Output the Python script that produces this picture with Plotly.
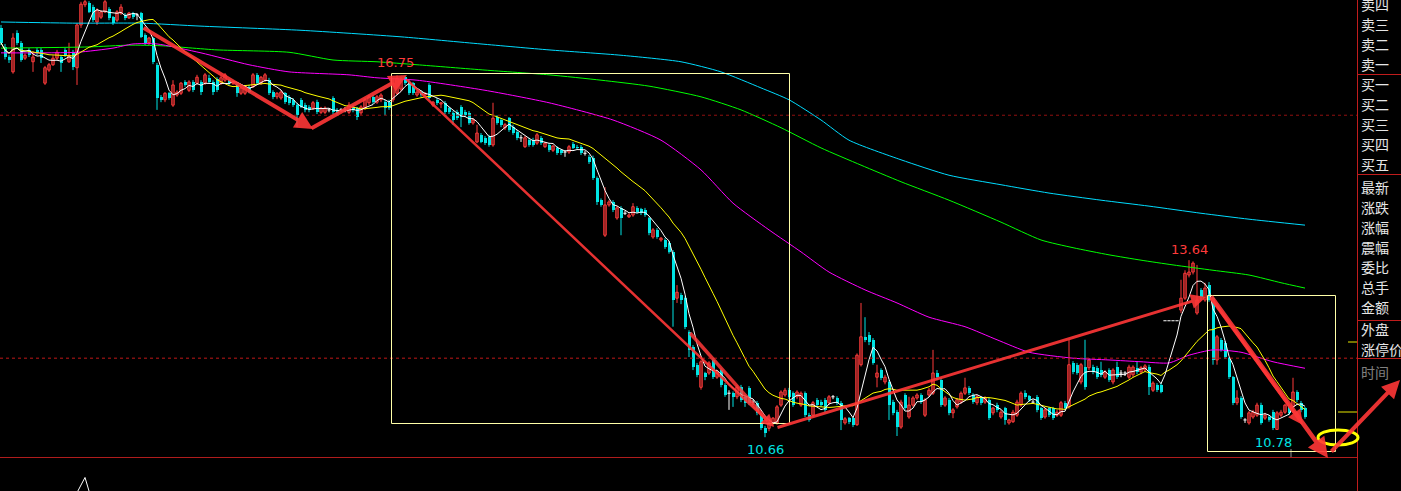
import plotly.graph_objects as go
import pandas as pd

# ---------------- candle data (bar index 0..326) ----------------
opens = [
17.55,17.23,17.06,16.81,17.46,17.30,17.04,17.18,16.98,17.18,
17.18,16.62,16.84,16.93,17.04,17.06,17.18,16.98,17.14,16.88,
17.60,17.94,17.97,17.90,17.65,17.73,17.82,17.87,17.73,17.68,
17.80,17.77,17.72,17.80,17.77,17.80,17.43,17.30,17.38,16.93,
16.39,16.34,16.45,16.25,16.42,16.45,16.64,16.50,16.64,16.62,
16.64,16.62,16.71,16.64,16.69,16.62,16.67,16.67,16.62,16.59,
16.45,16.45,16.56,16.56,16.76,16.62,16.67,16.67,16.47,16.39,
16.37,16.45,16.39,16.34,16.25,16.34,16.25,16.22,16.20,16.30,
16.13,16.13,16.17,16.37,16.17,16.17,16.17,16.13,16.22,16.20,
16.12,16.20,16.29,16.39,16.30,16.34,16.30,16.30,16.34,16.45,
16.52,16.72,16.64,16.62,16.42,16.47,16.42,16.59,16.25,16.34,
16.27,16.29,16.20,16.12,16.13,16.22,16.13,16.12,15.95,15.63,
15.75,15.70,15.71,15.58,16.05,16.00,15.87,16.03,15.88,15.80,
15.70,15.55,15.66,15.66,15.61,15.70,15.55,15.58,15.49,15.53,
15.49,15.46,15.46,15.60,15.55,15.55,15.44,15.38,15.36,15.02,
14.65,14.06,14.57,14.62,14.35,14.52,14.43,14.37,14.40,14.52,
14.50,14.49,14.35,14.03,14.15,13.98,13.98,13.93,13.78,13.00,
13.05,13.00,12.43,12.18,11.88,11.50,11.74,11.74,11.96,11.67,
11.79,11.54,11.40,11.40,11.34,11.50,11.34,11.49,11.25,11.24,
11.03,10.81,10.81,10.90,10.90,11.20,11.37,11.45,11.40,11.34,
11.20,11.40,11.03,11.03,11.29,11.25,11.29,11.24,11.34,11.32,
11.24,10.90,10.98,10.98,10.87,11.88,12.35,12.38,12.30,11.67,
11.79,11.59,11.59,11.25,11.08,10.83,11.37,11.00,11.20,11.32,
11.37,11.03,11.37,11.40,11.74,11.62,11.20,11.29,11.07,11.17,
11.25,11.40,11.49,11.37,11.24,11.32,11.25,11.29,11.07,11.20,
11.00,11.15,10.90,10.92,11.03,11.20,11.40,11.35,11.25,11.34,
11.15,11.00,11.15,11.15,11.03,11.03,11.24,11.17,11.91,11.88,
11.59,11.84,11.83,11.84,11.83,11.79,11.67,11.79,11.59,11.84,
11.74,11.74,11.67,11.71,11.83,11.76,11.79,11.84,11.45,11.54,
11.54,12.62,12.62,12.62,12.62,12.80,13.00,13.39,13.44,12.75,
13.14,12.97,13.22,13.00,11.96,12.30,12.25,11.99,11.67,11.24,
11.32,10.95,10.90,11.00,11.03,11.20,10.98,11.00,11.08,10.79,
11.03,11.08,11.17,11.17,11.42,11.24,11.15]

closes = [
17.30,17.06,17.01,17.38,17.30,17.01,17.09,17.09,17.06,17.13,
17.04,16.88,16.93,17.04,17.14,16.96,17.09,17.09,16.89,17.60,
17.95,17.99,17.82,17.68,17.85,17.82,17.99,17.72,17.63,17.82,
17.90,17.72,17.80,17.73,17.77,17.40,17.30,17.38,16.98,16.37,
16.34,16.45,16.37,16.59,16.47,16.62,16.59,16.64,16.50,16.72,
16.47,16.76,16.64,16.47,16.50,16.71,16.76,16.62,16.64,16.45,
16.54,16.56,16.47,16.76,16.62,16.72,16.76,16.45,16.39,16.45,
16.47,16.30,16.29,16.25,16.08,16.22,16.17,16.17,16.29,16.13,
16.20,16.20,16.17,16.13,16.12,16.17,16.17,16.25,16.17,16.05,
16.22,16.34,16.39,16.30,16.39,16.42,16.20,16.20,16.62,16.70,
16.68,16.62,16.45,16.45,16.47,16.42,16.45,16.37,16.30,16.29,
16.29,16.13,16.13,16.00,16.03,16.05,16.08,15.95,16.00,15.78,
15.63,15.61,15.58,16.03,15.95,15.92,15.92,15.83,15.78,15.70,
15.70,15.70,15.58,15.58,15.75,15.61,15.61,15.49,15.56,15.44,
15.44,15.46,15.55,15.53,15.53,15.44,15.44,15.29,15.02,14.62,
14.57,14.57,14.62,14.49,14.52,14.35,14.43,14.40,14.54,14.45,
14.43,14.40,14.10,14.15,14.03,14.01,13.86,13.78,12.97,13.10,
12.97,12.52,12.13,11.84,11.71,11.93,11.67,11.91,11.67,11.76,
11.54,11.37,11.40,11.34,11.50,11.29,11.24,11.24,11.25,11.07,
10.81,10.73,10.90,10.98,11.17,11.42,11.45,11.34,11.20,11.42,
11.40,11.03,10.95,11.24,11.20,11.20,11.12,11.34,11.34,11.24,
10.95,10.97,10.92,10.87,12.04,12.35,12.30,12.26,11.91,11.74,
11.66,11.67,11.20,11.07,10.83,11.25,11.15,11.20,11.32,11.37,
11.25,11.29,11.45,11.74,11.67,11.20,11.32,11.07,11.12,11.29,
11.40,11.49,11.40,11.25,11.34,11.24,11.32,10.98,11.15,11.12,
11.08,10.95,10.95,11.08,11.25,11.40,11.34,11.29,11.25,11.12,
10.98,11.12,11.03,10.98,11.08,11.24,11.15,11.88,11.76,11.74,
11.88,11.50,11.96,11.76,11.67,11.71,11.76,11.62,11.79,11.67,
11.74,11.74,11.84,11.84,11.76,11.83,11.86,11.50,11.57,11.45,
11.42,12.62,12.62,12.62,12.62,13.00,13.42,13.44,13.59,12.97,
13.02,13.17,12.97,11.96,12.35,12.13,12.01,11.67,11.24,11.32,
11.00,10.95,11.07,11.08,11.20,10.90,11.03,10.95,10.81,11.07,
11.08,11.20,11.07,11.42,11.29,11.12,11.00]

highs = [
17.60,17.28,17.09,17.46,17.51,17.33,17.12,17.21,17.16,17.21,
17.21,16.91,16.96,17.09,17.18,17.09,17.21,17.30,17.18,17.63,
17.99,18.02,18.00,17.94,17.88,17.85,18.02,17.90,17.75,17.85,
17.95,17.80,17.82,17.82,17.80,17.82,17.46,17.40,17.40,16.96,
16.42,16.47,16.47,16.67,16.50,16.64,16.67,16.67,16.67,16.76,
16.67,16.79,16.76,16.67,16.72,16.74,16.79,16.69,16.67,16.62,
16.56,16.59,16.59,16.79,16.79,16.74,16.79,16.71,16.50,16.47,
16.50,16.47,16.42,16.37,16.29,16.37,16.29,16.25,16.32,16.34,
16.22,16.23,16.20,16.40,16.20,16.20,16.22,16.30,16.25,16.22,
16.25,16.37,16.42,16.42,16.42,16.45,16.34,16.34,16.70,16.75,
16.72,16.74,16.67,16.64,16.50,16.50,16.47,16.62,16.32,16.37,
16.30,16.32,16.22,16.15,16.17,16.25,16.17,16.15,16.03,15.92,
15.78,15.73,15.75,16.29,16.08,16.03,15.95,16.05,15.92,15.83,
15.75,15.73,15.70,15.70,15.78,15.73,15.63,15.61,15.58,15.56,
15.51,15.49,15.58,15.63,15.58,15.58,15.48,15.41,15.40,15.05,
14.68,14.87,14.65,14.65,14.55,14.55,14.47,14.43,14.60,14.55,
14.52,14.52,14.37,14.18,14.18,14.03,14.01,13.96,13.81,13.22,
13.09,13.03,12.46,12.21,11.91,11.96,11.76,11.94,11.99,11.79,
11.82,11.57,11.45,11.43,11.54,11.54,11.37,11.52,11.29,11.27,
11.07,10.85,10.93,11.00,11.20,11.45,11.49,11.49,11.43,11.45,
11.43,11.43,11.07,11.27,11.32,11.29,11.32,11.37,11.37,11.35,
11.27,11.00,11.00,11.00,12.07,12.92,12.68,12.43,12.33,11.88,
11.82,11.71,11.62,11.29,11.12,11.29,11.40,11.34,11.35,11.40,
11.40,11.32,11.49,12.13,11.79,11.66,11.35,11.32,11.15,11.32,
11.43,11.66,11.52,11.40,11.37,11.35,11.35,11.32,11.17,11.24,
11.12,11.17,10.97,11.12,11.29,11.43,11.45,11.37,11.29,11.37,
11.17,11.15,11.17,11.17,11.12,11.27,11.27,12.30,11.94,11.91,
11.91,12.30,11.99,11.88,11.86,11.93,11.79,11.82,11.82,11.93,
11.79,11.77,11.88,11.87,11.93,11.86,11.89,11.88,11.60,11.57,
11.57,12.62,12.62,12.62,12.62,13.31,13.47,13.64,13.62,13.56,
13.17,13.26,13.27,13.02,12.38,12.33,12.28,12.01,11.69,11.45,
11.35,10.98,11.10,11.12,11.24,11.24,11.07,11.03,11.12,11.10,
11.12,11.22,11.20,11.66,11.45,11.27,11.17]

lows = [
17.26,17.02,16.96,16.78,17.26,16.98,17.01,17.06,16.81,17.09,
16.96,16.59,16.81,16.91,17.01,16.81,17.06,16.96,16.84,16.59,
17.55,17.90,17.80,17.65,17.60,17.70,17.80,17.68,17.60,17.65,
17.77,17.68,17.70,17.70,17.68,17.38,17.26,17.26,16.94,16.17,
16.30,16.30,16.34,16.22,16.39,16.42,16.56,16.47,16.47,16.59,
16.42,16.59,16.62,16.42,16.47,16.59,16.64,16.59,16.59,16.39,
16.42,16.42,16.45,16.54,16.59,16.59,16.64,16.42,16.35,16.35,
16.34,16.27,16.25,16.22,15.88,16.20,16.13,16.13,16.17,16.10,
16.10,16.10,16.13,16.10,16.08,16.13,16.13,16.10,16.13,16.00,
16.08,16.17,16.25,16.27,16.27,16.30,16.08,16.17,16.30,16.42,
16.48,16.59,16.42,16.42,16.39,16.39,16.39,16.34,16.22,16.25,
16.20,16.10,16.10,15.92,16.00,15.88,16.05,15.92,15.92,15.61,
15.61,15.58,15.55,15.55,15.92,15.88,15.83,15.80,15.75,15.66,
15.63,15.53,15.55,15.55,15.58,15.58,15.53,15.46,15.46,15.41,
15.41,15.38,15.43,15.51,15.51,15.41,15.40,15.26,14.99,14.57,
14.54,14.03,14.54,14.45,14.32,14.06,14.40,14.35,14.37,14.43,
14.40,14.37,14.06,14.00,14.00,13.95,13.83,13.75,12.52,12.92,
12.90,12.48,12.01,11.79,11.67,11.46,11.62,11.71,11.64,11.64,
11.50,11.34,11.12,11.17,11.30,11.25,11.17,11.20,11.20,11.03,
10.78,10.66,10.76,10.85,10.87,11.17,11.34,11.30,11.17,11.30,
11.17,11.00,10.92,11.00,11.17,11.17,11.08,11.20,11.30,11.20,
10.78,10.87,10.88,10.83,10.85,11.85,12.26,12.21,11.88,11.50,
11.62,11.55,10.95,11.03,10.68,10.80,11.12,10.97,11.17,11.29,
11.22,11.00,11.34,11.37,11.62,11.17,11.17,11.03,10.98,11.14,
11.22,11.37,11.37,11.22,11.20,11.20,11.22,10.95,11.03,11.08,
10.97,10.87,10.87,10.90,11.00,11.17,11.30,11.25,11.22,11.08,
10.95,10.97,11.00,10.95,11.00,11.00,11.12,11.14,11.72,11.71,
11.55,11.46,11.79,11.72,11.64,11.67,11.64,11.59,11.55,11.64,
11.67,11.69,11.64,11.67,11.72,11.72,11.76,11.37,11.42,11.42,
11.40,12.62,12.62,12.62,12.62,12.75,12.97,13.35,13.40,12.72,
12.97,12.94,12.94,11.88,11.88,12.10,11.98,11.64,11.20,11.20,
10.97,10.90,10.87,10.97,11.00,10.87,10.95,10.92,10.78,10.79,
11.00,11.05,11.03,11.14,11.25,11.08,10.97]

# long moving averages (bar index, price)
mag_idx = [0,19,28,33,39,50,62,72,87,94,104,121,137,153,165,175,183,192,200,207,
           216,224,232,241,249,257,268,277,285,292,297,303,310,318,326]
mag_val = [17.13,17.14,17.21,17.28,17.28,17.13,16.93,16.81,16.76,16.71,16.67,16.50,16.29,16.00,
           15.66,15.16,14.60,14.15,13.78,13.44,13.14,12.92,12.68,12.52,12.30,12.09,11.99,11.96,
           11.93,11.91,12.04,12.13,12.09,11.93,11.82]
grn_idx = [0,22,32,40,54,72,83,94,104,121,137,150,162,175,185,195,205,215,225,237,
           250,260,268,277,285,293,303,312,320,326]
grn_val = [17.21,17.23,17.26,17.25,17.18,17.14,17.01,16.98,16.93,16.84,16.76,16.67,16.57,16.39,
           16.17,15.87,15.53,15.24,14.96,14.65,14.28,13.98,13.85,13.73,13.64,13.56,13.47,13.39,
           13.26,13.17]
cyn_idx = [0,19,35,50,75,100,120,137,155,170,180,190,197,205,212,225,237,250,262,275,287,300,312,326]
cyn_val = [17.65,17.63,17.63,17.58,17.51,17.40,17.28,17.18,17.09,16.98,16.81,16.54,16.34,16.00,
           15.66,15.33,15.07,14.91,14.77,14.65,14.55,14.43,14.33,14.23]

# sub-panel indicator fragment
sub_idx = [19, 21, 22]
sub_val = [-0.05, 0.41, 0.0]

# marked extremes
label_hi1 = (99, 16.75)
label_lo1 = (191, 10.66)
label_hi2 = (297, 13.64)
label_lo2 = (318, 10.78)

panel_labels = ["卖四","卖三","卖二","卖一","买一","买二","买三","买四","买五",
                "最新","涨跌","涨幅","震幅","委比","总手","金额","外盘","涨停价","时间"]

assert len(opens) == len(closes) == len(highs) == len(lows), (len(opens), len(closes), len(highs), len(lows))

# ---------------- figure ----------------
W, H = 1401, 491
RED = "#ff3b3b"
CY = "#00e4e4"
n = len(opens)
idx = list(range(n))
cl = pd.Series(closes)
ma5 = cl.rolling(5, min_periods=1).mean()
ma20 = cl.rolling(20, min_periods=1).mean()

up = [i for i in idx if closes[i] > opens[i]]
dn = [i for i in idx if closes[i] < opens[i]]
dj = [i for i in idx if closes[i] == opens[i]]


def wicks(ids):
    xs, ys = [], []
    for i in ids:
        xs += [i, i, None]
        ys += [lows[i], highs[i], None]
    return xs, ys


fig = go.Figure()

for ids, col in ((up, RED), (dn, CY), (dj, "#ffffff")):
    wx, wy = wicks(ids)
    fig.add_trace(go.Scatter(x=wx, y=wy, mode="lines", line=dict(color=col, width=1),
                             hoverinfo="skip", showlegend=False))

fig.add_trace(go.Bar(x=up, y=[closes[i] - opens[i] for i in up], base=[opens[i] for i in up],
                     width=0.62, marker=dict(color="black", line=dict(color=RED, width=1)),
                     showlegend=False, hoverinfo="skip"))
fig.add_trace(go.Bar(x=dn, y=[opens[i] - closes[i] for i in dn], base=[closes[i] for i in dn],
                     width=0.75, marker=dict(color=CY, line=dict(width=0)),
                     showlegend=False, hoverinfo="skip"))
dx, dy = [], []
for i in dj:
    dx += [i - 0.4, i + 0.4, None]
    dy += [closes[i], closes[i], None]
fig.add_trace(go.Scatter(x=dx, y=dy, mode="lines", line=dict(color="#ffffff", width=1),
                         hoverinfo="skip", showlegend=False))

# moving averages
SPL = dict(width=1, shape="spline", smoothing=0.6)
fig.add_trace(go.Scatter(x=cyn_idx, y=cyn_val, mode="lines", line=dict(color="#00dcff", **SPL), showlegend=False))
fig.add_trace(go.Scatter(x=grn_idx, y=grn_val, mode="lines", line=dict(color="#00ff00", **SPL), showlegend=False))
fig.add_trace(go.Scatter(x=mag_idx, y=mag_val, mode="lines", line=dict(color="#ff00ff", **SPL), showlegend=False))
fig.add_trace(go.Scatter(x=idx, y=ma20, mode="lines", line=dict(color="#ffff00", width=1), showlegend=False))
fig.add_trace(go.Scatter(x=idx, y=ma5, mode="lines", line=dict(color="#ffffff", width=1), showlegend=False))

# sub panel
fig.add_trace(go.Scatter(x=sub_idx, y=sub_val, mode="lines", line=dict(color="#ffffff", width=1),
                         yaxis="y2", showlegend=False))

# ---------- pixel helpers for decorations ----------
PX_PER_BAR = 4.0
P_TOP = 18.02
P_PER_PX = 0.016835


def xi(px):
    return (px - 1) / PX_PER_BAR


def pr(py):
    return P_TOP - P_PER_PX * py


shapes = []
# reference horizontal lines
shapes.append(dict(type="line", xref="paper", yref="y", x0=0, x1=1357 / W, y0=16.08, y1=16.08,
                   line=dict(color="#901010", width=1, dash="dot")))
shapes.append(dict(type="line", xref="paper", yref="y", x0=0, x1=1357 / W, y0=11.99, y1=11.99,
                   line=dict(color="#c01818", width=1, dash="dot")))
# panel frame
shapes.append(dict(type="line", xref="paper", yref="paper", x0=0, x1=1357 / W, y0=1 - 457.5 / H, y1=1 - 457.5 / H,
                   line=dict(color="#b01c1c", width=1)))
shapes.append(dict(type="line", xref="paper", yref="paper", x0=1357.5 / W, x1=1357.5 / W, y0=0, y1=1,
                   line=dict(color="#c01c1c", width=1)))
for yy in (74.5, 174.5, 320.5, 358.5):
    shapes.append(dict(type="line", xref="paper", yref="paper", x0=1357.5 / W, x1=1, y0=1 - yy / H, y1=1 - yy / H,
                       line=dict(color="#c01c1c", width=1)))
# yellow ticks at the panel edge
shapes.append(dict(type="line", xref="paper", yref="y", x0=1348 / W, x1=1357 / W, y0=pr(342), y1=pr(342),
                   line=dict(color="#e8e800", width=1)))
shapes.append(dict(type="line", xref="paper", yref="y", x0=1338 / W, x1=1357 / W, y0=pr(412), y1=pr(412),
                   line=dict(color="#e8e800", width=1)))
# small grey marker
shapes.append(dict(type="line", xref="x", yref="y", x0=xi(1291), x1=xi(1291), y0=pr(449), y1=pr(457),
                   line=dict(color="#909090", width=1)))
# boxes
BOX = "#ffffa8"
shapes.append(dict(type="rect", xref="x", yref="y", x0=xi(391.5), x1=xi(789.5), y0=pr(423.5), y1=pr(73.5),
                   line=dict(color=BOX, width=1)))
shapes.append(dict(type="rect", xref="x", yref="y", x0=xi(1207.5), x1=xi(1335.5), y0=pr(451.5), y1=pr(295.5),
                   line=dict(color=BOX, width=1)))
# ellipse
shapes.append(dict(type="circle", xref="x", yref="y", x0=xi(1318), x1=xi(1358), y0=pr(445), y1=pr(430),
                   line=dict(color="#ffff00", width=3)))
# thicker lower part of the long falling stroke
shapes.append(dict(type="line", xref="x", yref="y", x0=xi(690), x1=xi(768), y0=pr(333), y1=pr(421),
                   line=dict(color="rgba(255,55,55,0.85)", width=3.5)))

ann = []
ARC = "rgba(255,55,55,0.9)"


def arrow(tx, ty, hx, hy, w, size=1.0):
    ann.append(dict(x=xi(hx), y=pr(hy), ax=xi(tx), ay=pr(ty), xref="x", yref="y", axref="x", ayref="y",
                    showarrow=True, arrowhead=2, arrowsize=size, arrowwidth=w, arrowcolor=ARC, text=""))


arrow(142, 27, 313, 129, 4, 0.9)
arrow(310, 129, 407, 75, 4, 0.9)
arrow(405, 78, 774, 427, 2.5)
arrow(776, 428, 1206, 297, 3)
arrow(1210, 297, 1303, 425, 3)
arrow(1210, 295, 1328, 458, 4.5, 0.9)
arrow(1330, 453, 1400, 380, 4, 0.9)

LBL = dict(family="DejaVu Sans", size=13)
ann.append(dict(x=label_hi1[0] - 0.5, y=label_hi1[1], text=f"{label_hi1[1]:.2f}", showarrow=False,
                yanchor="bottom", yshift=3, font=dict(color="#ff3b3b", **LBL)))
ann.append(dict(x=label_lo1[0], y=label_lo1[1], text=f"{label_lo1[1]:.2f}", showarrow=False,
                yanchor="top", yshift=-3, font=dict(color="#00e4e4", **LBL)))
ann.append(dict(x=label_hi2[0], y=label_hi2[1], text=f"{label_hi2[1]:.2f}", showarrow=False,
                yanchor="bottom", yshift=1, font=dict(color="#ff3b3b", **LBL)))
ann.append(dict(x=label_lo2[0], y=label_lo2[1], text=f"{label_lo2[1]:.2f}", showarrow=False,
                yanchor="top", yshift=-3, font=dict(color="#00e4e4", **LBL)))

panel_y = [4, 24, 44, 64, 84, 104, 124, 144, 164, 187, 207, 227, 247, 267, 287, 307, 329, 349, 372]
for lab, yy in zip(panel_labels, panel_y):
    ann.append(dict(x=1359 / W, y=1 - yy / H, xref="paper", yref="paper", text=lab, showarrow=False,
                    xanchor="left", yanchor="middle",
                    font=dict(family="Noto Sans CJK SC", size=14,
                              color="#808080" if lab == "时间" else "#e6e6e6")))

fig.update_layout(
    width=W, height=H, margin=dict(l=0, r=0, t=0, b=0),
    paper_bgcolor="black", plot_bgcolor="black",
    barmode="overlay", bargap=0, showlegend=False, hovermode=False,
    xaxis=dict(range=[xi(0), xi(W)], visible=False, fixedrange=True),
    yaxis=dict(range=[pr(H), pr(0)], visible=False, fixedrange=True, domain=[0, 1]),
    yaxis2=dict(range=[0, 1], domain=[0, 33 / H], visible=False, anchor="x"),
    shapes=shapes, annotations=ann,
)

fig.write_html("out.html", config={"displayModeBar": False, "staticPlot": True},
               post_script="document.body.style.margin='0';document.body.style.overflow='hidden';")
